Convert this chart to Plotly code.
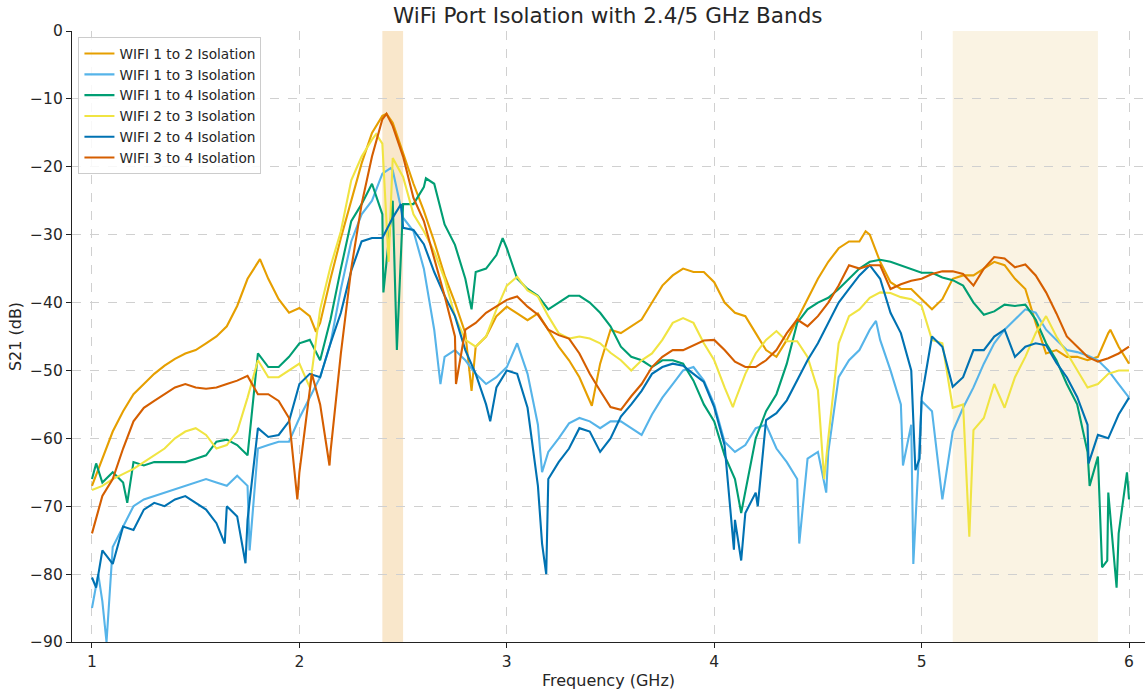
import plotly.graph_objects as go

# ---------------- data ----------------
FREQ = [1.00, 1.05, 1.10, 1.15, 1.20, 1.25, 1.30, 1.35, 1.40, 1.45,
        1.50, 1.55, 1.60, 1.65, 1.70, 1.75, 1.80, 1.85, 1.90, 1.95,
        2.00, 2.05, 2.10, 2.15, 2.20, 2.25, 2.30, 2.35, 2.40, 2.45,
        2.50, 2.55, 2.60, 2.65, 2.70, 2.75, 2.80, 2.85, 2.90, 2.95,
        3.00, 3.05, 3.10, 3.15, 3.20, 3.25, 3.30, 3.35, 3.40, 3.45,
        3.50, 3.55, 3.60, 3.65, 3.70, 3.75, 3.80, 3.85, 3.90, 3.95,
        4.00, 4.05, 4.10, 4.15, 4.20, 4.25, 4.30, 4.35, 4.40, 4.45,
        4.50, 4.55, 4.60, 4.65, 4.70, 4.75, 4.80, 4.85, 4.90, 4.95,
        5.00, 5.05, 5.10, 5.15, 5.20, 5.25, 5.30, 5.35, 5.40, 5.45,
        5.50, 5.55, 5.60, 5.65, 5.70, 5.75, 5.80, 5.85, 5.90, 5.95,
        6.00]

S12 = [-67, -63, -59, -56, -53.5, -52, -50.5, -49.3, -48.3, -47.5,
       -47, -46, -45, -43.5, -40.5, -36.5, -34, -36.5, -39.5, -41.5,
       -40.8, -42, -43, -36.5, -30.5, -25, -19.5, -15, -12.5, -13.5,
       -18, -22.5, -26.5, -31, -36, -40, -44.5, -46.5, -45, -42,
       -40.6, -41.6, -42.6, -41.6, -44, -46.5, -48.5, -51, -54.5, -49,
       -44, -44.5, -43.5, -42.5, -40, -37.5, -36, -35, -35.5, -35.5,
       -37, -40, -41.5, -42, -44.5, -47, -48, -45.5, -42.5, -39.5,
       -36.5, -34, -32, -31, -31, -30, -34, -37, -38, -38,
       -39.5, -41, -39.5, -36.5, -36, -36, -35, -34, -34.5, -36.5,
       -38, -43, -47.5, -47, -48, -48, -48.5, -48, -44.5, -46.5,
       -49]
S13 = [-85, -84, -76, -73, -70, -69, -68.5, -68, -67.5, -67,
       -66.5, -66, -66.5, -67, -65.5, -67, -61.5, -61, -60.5, -60.5,
       -57, -54, -51, -46, -38, -31, -27, -25, -21, -20.5,
       -27.5, -29.5, -35, -44, -48, -47, -48.5, -50.5, -52, -51,
       -49.5, -46, -50.5, -58, -62, -60, -57.8, -57, -57.5, -58.5,
       -57.5, -57.5, -58.5, -59.5, -56.5, -54, -52, -50, -49.5, -51.5,
       -55, -60.5, -62, -61, -58.5, -58, -61.5, -63.5, -66, -63,
       -62, -62, -51, -48.5, -47, -44, -45.5, -50, -55, -58,
       -54.5, -56, -69, -59, -55.5, -52.5, -49, -46, -44, -42.5,
       -41, -41.5, -44, -45.5, -47, -47.3, -47.8, -48.5, -50, -52,
       -54]
S14 = [-66, -66.5, -65, -66.5, -63.5, -64, -63.5, -63.5, -63.5, -63.5,
       -63, -62.5, -60.5, -60.2, -61, -62.5, -47.5, -49.5, -49.5, -48,
       -46, -45.5, -48.5, -42.5, -35, -28, -25.5, -22.5, -27, -25,
       -25.5, -25.5, -23, -22.5, -28.5, -31.5, -36.5, -35.5, -35, -33,
       -32, -36.5, -38, -39, -41, -40, -39, -39, -40, -41.5,
       -43.5, -46.5, -48, -48.5, -49.5, -48.5, -48.5, -49, -51.5, -55,
       -57.5, -62.5, -66, -68, -60, -56, -53.5, -49, -43, -41,
       -40, -39.3, -38, -36.5, -35, -34, -33.7, -34, -34.5, -35,
       -35.6, -35.6, -36.3, -36.7, -37.5, -40, -41.8, -41.3, -40.3, -40.5,
       -40.3, -42.5, -46, -48.5, -52, -55, -62, -62.7, -68, -74,
       -69]
S23 = [-67.6, -67, -66, -65.3, -64.5, -63.5, -62.5, -61.5, -60, -59,
       -58.5, -59.5, -61.5, -61, -59, -54, -48.5, -51, -51, -50,
       -49, -52.5, -41, -34.7, -29.5, -22, -18.5, -16, -16.6, -18.7,
       -21.5, -27, -29.5, -32.5, -36.5, -42, -45.5, -46.5, -45, -41,
       -37.5, -36.2, -38.2, -39.1, -42, -44.5, -45.3, -45, -45.3, -46,
       -47.4, -48.5, -50, -48.5, -47.5, -45.5, -43, -42.3, -43, -46,
       -48.5, -52.5, -54.5, -50.5, -47.5, -45.5, -44.2, -45.7, -45.7, -48,
       -52.9, -60, -46, -42, -41, -39.3, -38.5, -38.6, -39.2, -39.5,
       -40.5, -45.5, -46, -55.5, -55, -58.8, -57, -52, -55.5, -51,
       -48, -44.5, -42, -45, -47.4, -50, -52.5, -52, -50.5, -50,
       -50]
S24 = [-80.5, -76.5, -78.5, -73, -73.5, -70.5, -69.5, -70, -69, -68.5,
       -69.5, -70.5, -72.5, -70, -71.5, -72, -58.5, -59.8, -59.5, -57.5,
       -52, -50.5, -51, -46, -41.5, -35.3, -31, -30.5, -30.5, -27.5,
       -29, -29.3, -31.4, -35.5, -39, -42, -47, -50.5, -55, -52.5,
       -50, -50.5, -55.5, -67, -66, -63.5, -61.5, -58.5, -59, -62,
       -60, -56.8, -55, -53, -50.5, -49.5, -49, -49.3, -50.5, -51.7,
       -55.4, -61, -72, -71, -68, -57.3, -56.3, -54.4, -51.4, -48.5,
       -46, -43, -40, -38, -36, -34.5, -36.5, -41.5, -44.5, -50,
       -54, -45, -46.5, -52.4, -51, -47, -47, -45, -44, -48,
       -46.5, -46, -46.3, -48.9, -51, -53.9, -58, -59.5, -60, -56.5,
       -54]
S34 = [-74, -68.5, -66, -61.5, -57.5, -55.5, -54.5, -53.5, -52.5, -52,
       -52.5, -52.7, -52.5, -52, -51.5, -50.8, -53.5, -53.5, -54.5, -57,
       -65, -52.5, -55, -62, -47.5, -35, -25.5, -18.5, -13, -14,
       -18.5, -24.6, -28, -33.4, -39, -45, -44, -43, -41.5, -40.5,
       -39.6, -39.1, -40.6, -41.8, -44, -44.8, -45.3, -47.5, -50.5, -53,
       -55.4, -55.8, -53.8, -52, -49.5, -48, -47, -47, -46.3, -45.6,
       -45.5, -47, -48.7, -49.5, -49.5, -48.5, -47, -44.5, -42.5, -43.5,
       -42, -40, -37.5, -34.5, -35, -34.5, -34.5, -38, -37.3, -36.8,
       -36.5, -35.8, -35.4, -35.4, -35.8, -37.5, -35, -33.3, -33.5, -34.8,
       -34.4, -36, -38.5, -41.6, -45, -46.5, -48, -48.7, -48.2, -47.5,
       -46.5]

# extra readings at narrow peaks / notches (freq GHz, dB)
X12 = [(1.81, -33.6), (2.08, -44.3), (2.42, -12.2), (2.83, -53), (3.41, -55.2), (4.73, -29.5), (5.91, -44)]
X13 = [(1.03, -80), (1.07, -90), (1.76, -76.5), (2.44, -20.2), (2.68, -52), (3.17, -65),
       (4.41, -75.5), (4.54, -68), (4.78, -42.7), (4.91, -64), (4.96, -78.5)]
X14 = [(1.02, -63.7), (1.17, -69.5), (2.405, -38.5), (2.47, -47), (2.61, -21.7), (2.83, -41),
       (2.98, -30.5), (4.13, -71), (5.81, -67), (5.87, -79), (5.895, -78), (5.94, -82), (5.99, -65)]
X23 = [(2.37, -15.2), (2.43, -34), (4.09, -55.4), (4.53, -66), (5.23, -74.5)]
X24 = [(1.02, -82), (1.64, -75.5), (1.74, -78.4), (2.49, -25.5), (2.92, -57.5), (3.17, -75.5),
       (3.19, -80), (4.095, -76.4), (4.13, -78), (4.21, -70), (4.97, -64.7), (4.99, -63), (5.805, -63.7)]
X34 = [(1.99, -69), (2.06, -50.5), (2.145, -64), (2.42, -12.2), (2.755, -52)]

NAMES = ["WIFI 1 to 2 Isolation", "WIFI 1 to 3 Isolation", "WIFI 1 to 4 Isolation",
         "WIFI 2 to 3 Isolation", "WIFI 2 to 4 Isolation", "WIFI 3 to 4 Isolation"]
COLORS = ["#E69F00", "#56B4E9", "#009E73", "#F0E442", "#0072B2", "#D55E00"]
SERIES = [S12, S13, S14, S23, S24, S34]
EXTRAS = [X12, X13, X14, X23, X24, X34]

BANDS = [(2.4, 2.5, "#F9E7CB"), (5.15, 5.85, "#FAF3E3")]
TITLE = "WiFi Port Isolation with 2.4/5 GHz Bands"
XTICKS = [1, 2, 3, 4, 5, 6]
YTICKS = [0, -10, -20, -30, -40, -50, -60, -70, -80, -90]

# ---------------- figure ----------------
FONT = "DejaVu Sans"
TXT = "#262626"

fig = go.Figure()
for name, color, vals, extra in zip(NAMES, COLORS, SERIES, EXTRAS):
    pts = sorted(list(zip(FREQ, vals)) + list(extra), key=lambda p: p[0])
    fig.add_trace(go.Scatter(
        x=[p[0] for p in pts], y=[p[1] for p in pts],
        mode="lines", name=name, legendgroup=name,
        line=dict(color=color, width=2.1),
    ))

for x0, x1, c in BANDS:
    fig.add_shape(type="rect", xref="x", yref="paper", x0=x0, x1=x1, y0=0, y1=1,
                  fillcolor=c, line=dict(width=0), layer="below")

fig.update_layout(
    width=1145, height=690,
    margin=dict(l=72, r=0, t=31, b=48),
    paper_bgcolor="white", plot_bgcolor="white",
    font=dict(family=FONT, color=TXT, size=15),
    title=dict(text=TITLE, x=0.5308, xanchor="center", y=1 - 15 / 690, yanchor="middle",
               font=dict(size=21.5, family=FONT, color=TXT)),
    legend=dict(x=0.006, y=0.99, xanchor="left", yanchor="top",
                bgcolor="rgba(255,255,255,0.85)", bordercolor="#cccccc", borderwidth=1,
                font=dict(size=13.7, family=FONT, color=TXT), tracegroupgap=0),
    showlegend=True,
)
fig.update_xaxes(
    range=[0.9036, 6.077], tickvals=XTICKS, ticktext=[str(t) for t in XTICKS],
    showgrid=True, gridcolor="#d0d0d0", griddash="dash", gridwidth=1,
    showline=True, linecolor="#222222", linewidth=1.2,
    ticks="outside", ticklen=5, tickcolor="#222222",
    tickfont=dict(size=15.5, family=FONT, color=TXT),
    title=dict(text="Frequency (GHz)", font=dict(size=16, family=FONT, color=TXT), standoff=7),
    zeroline=False, automargin=False,
)
fig.update_yaxes(
    range=[-90, 0], tickvals=YTICKS,
    showgrid=True, gridcolor="#d0d0d0", griddash="dash", gridwidth=1,
    showline=True, linecolor="#222222", linewidth=1.2,
    ticks="outside", ticklen=5, tickcolor="#222222",
    tickfont=dict(size=15.5, family=FONT, color=TXT),
    title=dict(text="S21 (dB)", font=dict(size=16, family=FONT, color=TXT), standoff=4),
    zeroline=False, automargin=False,
)

# remove the browser's default 8px body margin so the figure fills the window exactly
fig.write_html("out.html", config={"displayModeBar": False},
               post_script="document.body.style.margin='0';")
